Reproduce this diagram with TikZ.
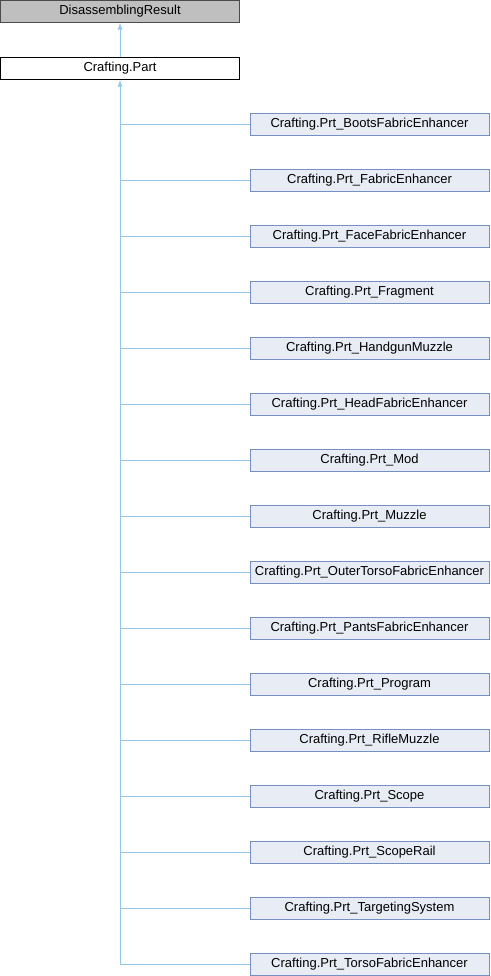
\documentclass[tikz,border=0pt]{standalone}
\usepackage{fontspec}
\setmainfont{Liberation Sans}
\usetikzlibrary{arrows.meta}
\definecolor{edgeblue}{RGB}{145,200,235}
\definecolor{boxline}{RGB}{118,143,196}
\definecolor{boxfill}{RGB}{232,236,244}
\definecolor{basegray}{RGB}{191,191,191}
\tikzset{
  cls/.style={draw,minimum width=239pt,minimum height=22pt,inner sep=0pt,
    font=\fontsize{13}{14}\selectfont},
  derived/.style={cls,draw=boxline,fill=boxfill},
  inherit/.style={draw=edgeblue,line width=0.9pt}
}
\begin{document}
\begin{tikzpicture}[x=1pt,y=-1pt]
\useasboundingbox (0,0) rectangle (490,976);
\node[cls,fill=basegray,draw=black!70] (base) at (120,11.5) {DisassemblingResult};
\node[cls,draw=black,fill=white] (part) at (120,68.5) {Crafting.Part};
% derived classes
\node[derived] (c1) at (369.5,124) {Crafting.Prt\_BootsFabricEnhancer};
\node[derived] (c2) at (369.5,180) {Crafting.Prt\_FabricEnhancer};
\node[derived] (c3) at (369.5,236) {Crafting.Prt\_FaceFabricEnhancer};
\node[derived] (c4) at (369.5,292) {Crafting.Prt\_Fragment};
\node[derived] (c5) at (369.5,348) {Crafting.Prt\_HandgunMuzzle};
\node[derived] (c6) at (369.5,404) {Crafting.Prt\_HeadFabricEnhancer};
\node[derived] (c7) at (369.5,460) {Crafting.Prt\_Mod};
\node[derived] (c8) at (369.5,516) {Crafting.Prt\_Muzzle};
\node[derived] (c9) at (369.5,572) {Crafting.Prt\_OuterTorsoFabricEnhancer};
\node[derived] (c10) at (369.5,628) {Crafting.Prt\_PantsFabricEnhancer};
\node[derived] (c11) at (369.5,684) {Crafting.Prt\_Program};
\node[derived] (c12) at (369.5,740) {Crafting.Prt\_RifleMuzzle};
\node[derived] (c13) at (369.5,796) {Crafting.Prt\_Scope};
\node[derived] (c14) at (369.5,852) {Crafting.Prt\_ScopeRail};
\node[derived] (c15) at (369.5,908) {Crafting.Prt\_TargetingSystem};
\node[derived] (c16) at (369.5,964) {Crafting.Prt\_TorsoFabricEnhancer};
% inheritance
\draw[inherit,{Latex[length=7pt,width=5pt]}-] (base.south) -- (part.north);
\draw[inherit,{Latex[length=7pt,width=5pt]}-] (part.south) |- (c16.west);
\foreach \i in {1,...,15}
  \draw[inherit] (part.south |- c\i.west) -- (c\i.west);
\end{tikzpicture}
\end{document}
